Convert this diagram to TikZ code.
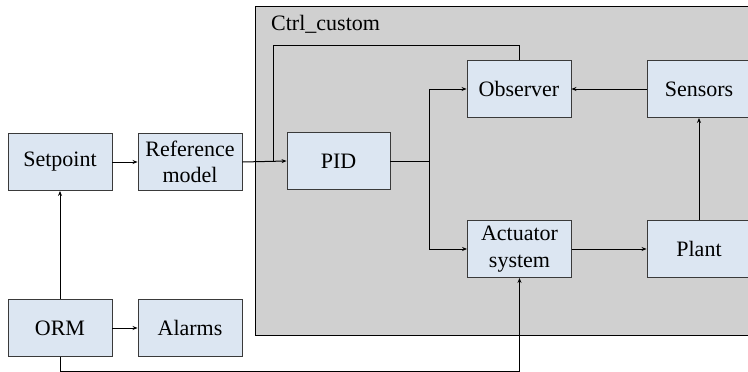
\documentclass[tikz,border=0pt]{standalone}
\usepackage{fontspec}
\setmainfont{Liberation Serif}
\usetikzlibrary{arrows.meta}
\definecolor{boxfill}{HTML}{DCE6F2}
\definecolor{boxline}{HTML}{3A3A3A}
\definecolor{ctrlfill}{HTML}{D0D0D0}
\tikzset{
  blk/.style={draw=boxline, line width=0.9pt, fill=boxfill, minimum width=104pt, minimum height=57pt,
    inner sep=0pt, align=center, font=\fontsize{22}{26.4}\selectfont},
  conn/.style={draw=black, line width=1pt},
  arr/.style={conn, -{Stealth[length=5pt,width=4pt]}}
}
\begin{document}
\begin{tikzpicture}[x=1pt, y=-1pt]
\useasboundingbox (0,0) rectangle (748,372);
% container
\node[draw=black, line width=1pt, fill=ctrlfill, minimum width=510pt, minimum height=329pt, inner sep=0pt, anchor=north west] (ctrl) at (255,6) {};
\node[anchor=west, inner sep=0pt, font=\fontsize{22}{26.4}\selectfont] (ctrllabel) at (271,24) {Ctrl\_custom};
% blocks
\node[blk] (sp) at (60,162) {Setpoint};
\node[blk] (ref) at (190,162) {Reference\\model};
\node[blk] (orm) at (60,328) {ORM};
\node[blk] (alm) at (190,328) {Alarms};
\node[blk, minimum width=103pt] (pid) at (338.5,161) {PID};
\node[blk] (obs) at (519,89) {Observer};
\node[blk] (sens) at (699,89) {Sensors};
\node[blk] (act) at (519.5,249) {Actuator\\system};
\node[blk] (plant) at (699,249) {Plant};
% helper coordinates
\coordinate (fbk) at (273,45);
\coordinate (split) at (429,161);
\coordinate (low) at (0,371);
% connectors
\draw[arr] (sp.east) -- (ref.west);
\draw[arr] (ref.east) -- (pid.west);
\draw[conn] (obs.north) |- (fbk) -- (fbk |- pid.west);
\draw[conn] (pid.east) -- (split);
\draw[arr] (split) |- (obs.west);
\draw[arr] (split) |- (act.west);
\draw[arr] (sens.west) -- (obs.east);
\draw[arr] (act.east) -- (plant.west);
\draw[arr] (plant.north) -- (sens.south);
\draw[arr] (orm.north) -- (sp.south);
\draw[arr] (orm.east) -- (alm.west);
\draw[arr] (orm.south) -- (orm.south |- low) -| (act.south);
\end{tikzpicture}
\end{document}
